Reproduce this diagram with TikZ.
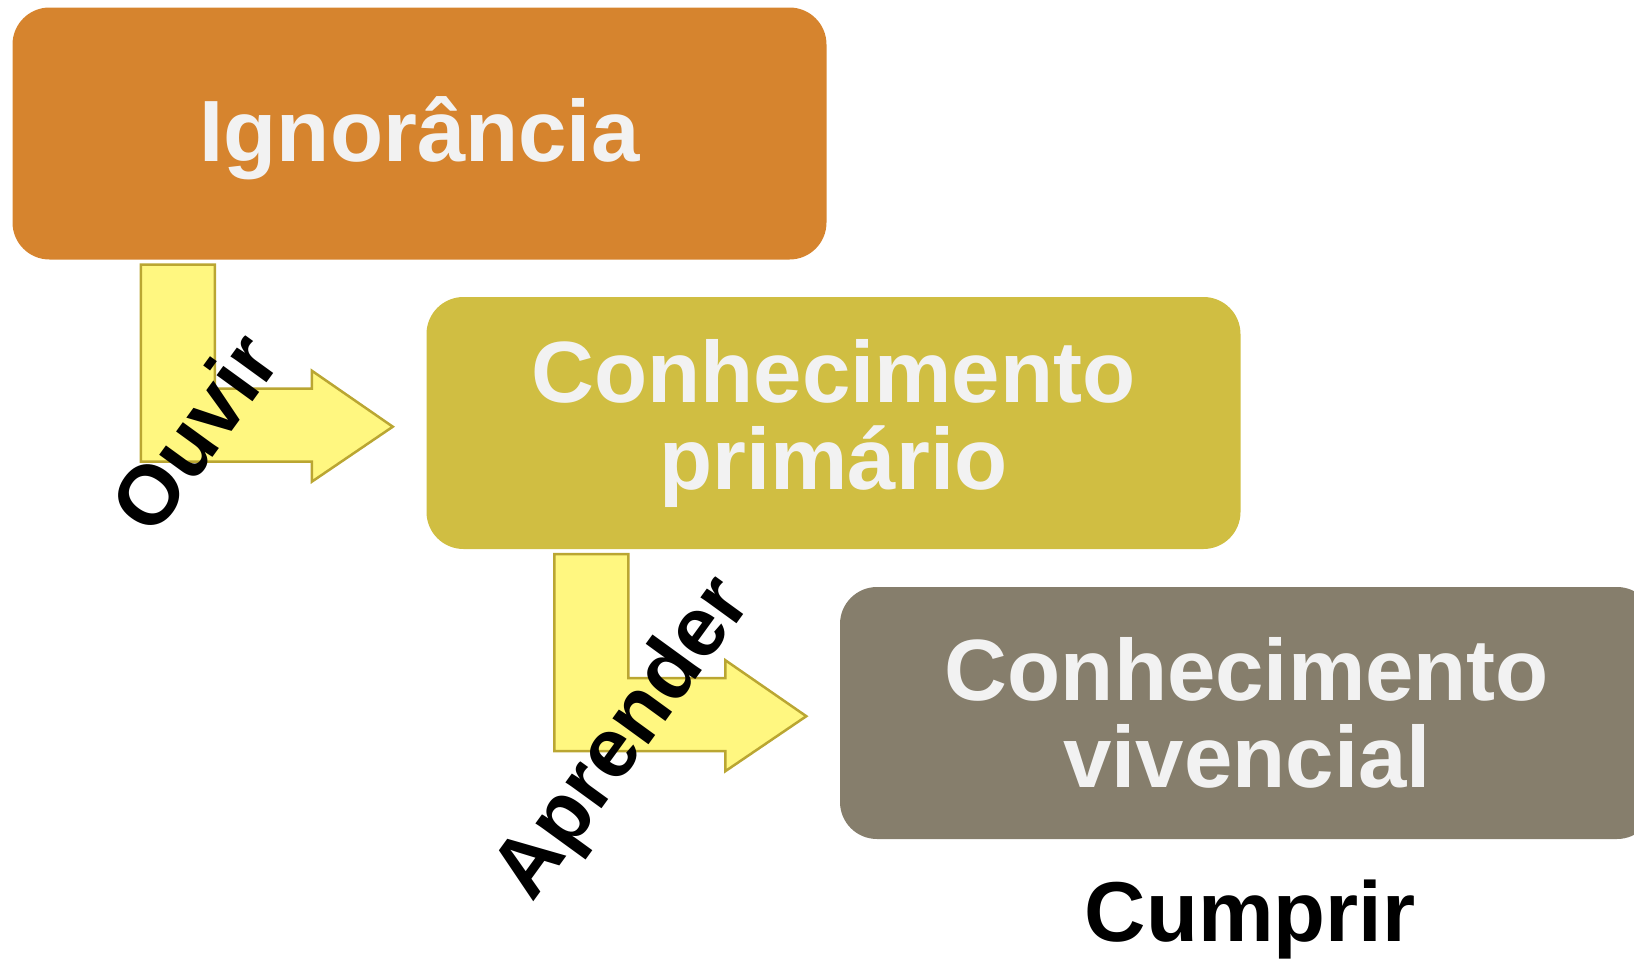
\documentclass[tikz,border=0pt]{standalone}
\usepackage{fontspec}
\setmainfont{Liberation Sans}
\usetikzlibrary{positioning}
\definecolor{ignfill}{RGB}{214,132,46}
\definecolor{primfill}{RGB}{208,190,66}
\definecolor{vivfill}{RGB}{134,126,108}
\definecolor{boxtext}{RGB}{242,242,242}
\definecolor{arrowfill}{RGB}{255,247,128}
\definecolor{arrowline}{RGB}{186,166,50}
\tikzset{
  stage/.style={rounded corners=37pt, minimum width=814pt, minimum height=252pt,
    inner sep=0pt, align=center, text=boxtext,
    font=\fontsize{87}{87}\selectfont\bfseries},
  verb/.style={font=\fontsize{84}{84}\selectfont\bfseries, rotate=54},
  turn/.style={fill=arrowfill, draw=arrowline, line width=2.5pt, line join=miter}
}
\newcommand{\bentarrow}[1]{%
  \draw[turn, shift={(#1)}] (0,0) -- (74,0) -- (74,124) -- (171,124) -- (171,106)
    -- (252,162) -- (171,217) -- (171,197) -- (0,197) -- cycle;}

\begin{document}
\begin{tikzpicture}[x=1pt, y=-1pt]
\useasboundingbox (0,0) rectangle (1634,959);
\clip (0,0) rectangle (1634,959);
%
\node[stage, fill=ignfill, text height=70pt, text depth=14pt] (ign) at (419.5,133.5) {Ignorância};
\node[stage, fill=primfill] (prim) at (833.5,423) {Conhecimento\\primário};
\node[stage, fill=vivfill]  (viv)  at (1247,713)  {Conhecimento\\vivencial};
%
\coordinate (ouvirfoot)    at ([xshift=128.5pt, yshift=-5pt]ign.south west);
\coordinate (aprenderfoot) at ([xshift=128pt, yshift=-5pt]prim.south west);
\bentarrow{ouvirfoot}
\bentarrow{aprenderfoot}
%
\node[verb] (ouvir)    at (194,432) {Ouvir};
\node[verb] (aprender) at (625,740) {Aprender};
\node[anchor=base, font=\fontsize{85}{85}\selectfont\bfseries] (cumprir) at (1250,941) {Cumprir};
%
\end{tikzpicture}
\end{document}
